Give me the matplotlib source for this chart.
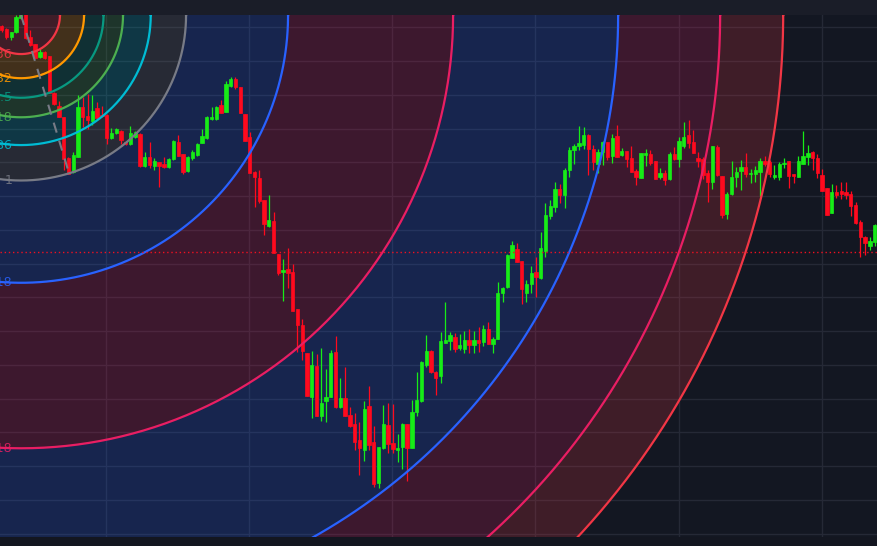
import numpy as np
import matplotlib.pyplot as plt
from matplotlib.patches import PathPatch, Rectangle
from matplotlib.path import Path

# OHLC, one entry per bar
opens = [520, 517, 509, 514, 528, 533, 509, 502, 489, 494, 490, 453, 440, 429, 388, 374, 389, 439, 430, 425,
         438, 431, 431, 408, 413, 415, 404, 402, 409, 412, 380, 389, 380, 384, 382, 379, 387, 404, 392, 375,
         388, 391, 403, 408, 427, 427, 441, 434, 460, 467, 459, 432, 409, 374, 368, 346, 320, 325, 292, 274,
         277, 274, 237, 221, 193, 149, 180, 130, 145, 149, 194, 139, 148, 131, 122, 106, 96, 140, 104, 63,
         98, 121, 103, 96, 99, 122, 98, 134, 145, 181, 195, 174, 170, 203, 205, 209, 198, 197, 206, 201,
         206, 204, 217, 202, 207, 253, 259, 288, 297, 285, 253, 262, 274, 268, 295, 330, 339, 357, 351, 376,
         396, 400, 401, 411, 397, 382, 394, 404, 390, 410, 391, 395, 388, 375, 368, 391, 392, 385, 369, 373,
         367, 392, 387, 400, 411, 404, 388, 387, 373, 364, 399, 370, 332, 352, 369, 375, 379, 372, 372, 374,
         385, 384, 369, 369, 382, 385, 372, 369, 382, 389, 394, 388, 371, 358, 333, 354, 355, 354, 352, 341,
         324, 309, 300, 304]
highs = [521, 518, 514, 531, 537, 537, 516, 502, 497, 495, 490, 454, 445, 429, 389, 394, 451, 449, 452, 451,
         444, 440, 432, 418, 418, 416, 405, 420, 415, 413, 394, 404, 388, 384, 389, 388, 406, 411, 392, 390,
         396, 403, 417, 430, 439, 440, 446, 465, 469, 469, 459, 432, 414, 375, 376, 346, 351, 334, 292, 287,
         298, 282, 237, 227, 193, 195, 192, 198, 177, 196, 210, 168, 179, 139, 133, 124, 145, 160, 120, 99,
         141, 143, 142, 112, 123, 122, 146, 174, 185, 211, 196, 175, 214, 244, 214, 213, 212, 215, 217, 215,
         219, 221, 224, 209, 264, 259, 292, 305, 303, 285, 266, 280, 289, 314, 343, 346, 364, 362, 378, 399,
         402, 420, 419, 412, 401, 397, 405, 404, 412, 421, 398, 395, 400, 377, 393, 397, 396, 385, 378, 376,
         394, 399, 409, 424, 426, 416, 394, 389, 376, 400, 401, 370, 354, 385, 379, 386, 393, 377, 380, 388,
         390, 386, 381, 384, 388, 385, 372, 390, 415, 401, 395, 392, 377, 358, 362, 361, 364, 364, 355, 344,
         326, 310, 309, 322]
lows = [514, 507, 506, 513, 527, 507, 500, 488, 488, 487, 453, 441, 429, 376, 372, 373, 389, 419, 417, 421,
        427, 429, 402, 407, 412, 402, 401, 401, 408, 379, 379, 378, 376, 359, 378, 378, 386, 390, 372, 374,
        386, 390, 403, 407, 426, 426, 433, 434, 459, 457, 433, 405, 373, 339, 343, 311, 319, 293, 271, 245,
        258, 235, 194, 186, 150, 128, 130, 125, 124, 149, 138, 138, 130, 119, 96, 71, 85, 96, 59, 58,
        97, 93, 93, 84, 77, 65, 98, 130, 144, 179, 173, 151, 163, 203, 196, 194, 196, 193, 193, 193,
        194, 200, 202, 193, 207, 244, 258, 288, 284, 242, 244, 253, 249, 267, 289, 327, 334, 343, 338, 369,
        382, 396, 397, 371, 376, 373, 381, 386, 383, 389, 390, 379, 374, 361, 368, 380, 381, 367, 367, 361,
        366, 386, 379, 398, 398, 393, 379, 367, 344, 357, 370, 328, 327, 351, 359, 356, 369, 363, 364, 350,
        380, 369, 367, 366, 378, 358, 363, 369, 382, 381, 376, 368, 355, 331, 333, 348, 347, 347, 330, 322,
        289, 291, 296, 300]
closes = [516, 509, 514, 529, 531, 508, 501, 488, 494, 488, 453, 442, 429, 387, 372, 391, 439, 429, 426, 435,
          428, 430, 408, 413, 417, 406, 402, 413, 414, 380, 389, 381, 385, 380, 379, 387, 405, 390, 374, 389,
          394, 402, 410, 429, 429, 439, 433, 462, 467, 459, 433, 405, 373, 369, 345, 322, 326, 293, 273, 276,
          273, 235, 221, 195, 150, 181, 130, 143, 149, 193, 139, 148, 130, 120, 104, 98, 137, 101, 62, 99,
          122, 102, 97, 98, 122, 98, 134, 146, 184, 195, 174, 168, 205, 206, 211, 197, 201, 206, 201, 206,
          203, 217, 202, 207, 253, 258, 291, 301, 284, 257, 262, 273, 269, 298, 331, 340, 357, 351, 376, 396,
          400, 403, 411, 397, 384, 394, 404, 389, 408, 389, 395, 387, 374, 369, 393, 393, 383, 367, 373, 366,
          392, 387, 405, 409, 403, 393, 385, 371, 364, 400, 371, 331, 352, 369, 374, 379, 372, 373, 376, 385,
          382, 372, 371, 382, 383, 370, 370, 385, 390, 393, 388, 373, 355, 331, 354, 351, 352, 351, 340, 323,
          309, 303, 305, 321]

# fib circles
levels = [0.236, 0.382, 0.5, 0.618, 0.786, 1, 1.618, 2.618, 3.618, 4.236, 4.618]
level_labels = ['0.236', '0.382', '0.5', '0.618', '0.786', '1', '1.618', '2.618', '3.618', '4.236', '4.618']
level_colors = ['#f23645', '#ff9800', '#089981', '#4caf50', '#00bcd4', '#787b86',
                '#2962ff', '#e91e63', '#2962ff', '#e91e63', '#f23645']
center = (4.05, 531.0)     # bar index, price
radius = (34.6, 165.5)     # level-1 radius in bars / price
trend_end = (14.1, 373.0)
last_price = 293.7

BG = '#131722'
UP, DOWN = '#17ec17', '#ff0a1e'

fig = plt.figure(figsize=(8.78, 5.46), dpi=100, facecolor='#1a1d28')
fig.patches.append(Rectangle((0, 0), 1, 9 / 546, transform=fig.transFigure,
                             facecolor='#131620', zorder=0))
ax = fig.add_axes([0, 9 / 546, 1, 522 / 546])
ax.set_facecolor(BG)

# annuli between consecutive levels
t = np.linspace(0, 2 * np.pi, 721)
cx, cy = center
rx, ry = radius
prev = None
for lv, col in zip(levels, level_colors):
    outer = np.column_stack([cx + lv * rx * np.cos(t), cy + lv * ry * np.sin(t)])
    if prev is None:
        path = Path(outer, closed=True)
    else:
        path = Path.make_compound_path(Path(outer, closed=True), Path(prev[::-1], closed=True))
    ax.add_patch(PathPatch(path, facecolor=col, alpha=0.2, lw=0, zorder=1))
    ax.plot(outer[:, 0], outer[:, 1], color=col, lw=1.6, zorder=4)
    prev = outer

for lv, lab, col in zip(levels, level_labels, level_colors):
    y = cy - lv * ry
    if y > 9:
        ax.text(2.2, y, lab, color=col, fontsize=9, ha='right', va='center', zorder=5, alpha=0.85)

ax.plot([cx, trend_end[0]], [cy, trend_end[1]], color='#787b86', lw=1.5,
        ls=(0, (5, 4)), zorder=4)

# candles
x = np.arange(len(opens))
o = np.array(opens, float)
h = np.array(highs, float)
l = np.array(lows, float)
c = np.array(closes, float)
cols = np.where(c >= o, UP, DOWN)
ax.vlines(x, l, h, colors=cols, lw=0.9, zorder=3)
ax.bar(x, c - o, bottom=o, width=0.7, color=cols, edgecolor=cols, lw=0.5, zorder=3)

ax.axhline(last_price, color='#f01020', lw=1, ls=(0, (1, 2)), zorder=4)

ax.set_xlim(-0.356, 183.71)
ax.set_ylim(9, 531)
ax.set_xticks(np.arange(21.9, 184, 30))
ax.set_yticks(np.arange(12.5, 531, 33.75))
ax.grid(True, color='#252936', lw=1, zorder=0)
ax.set_axisbelow(True)
ax.tick_params(length=0, labelbottom=False, labelleft=False)
for s in ax.spines.values():
    s.set_visible(False)

fig.savefig('out.png', dpi=100, facecolor=fig.get_facecolor())
